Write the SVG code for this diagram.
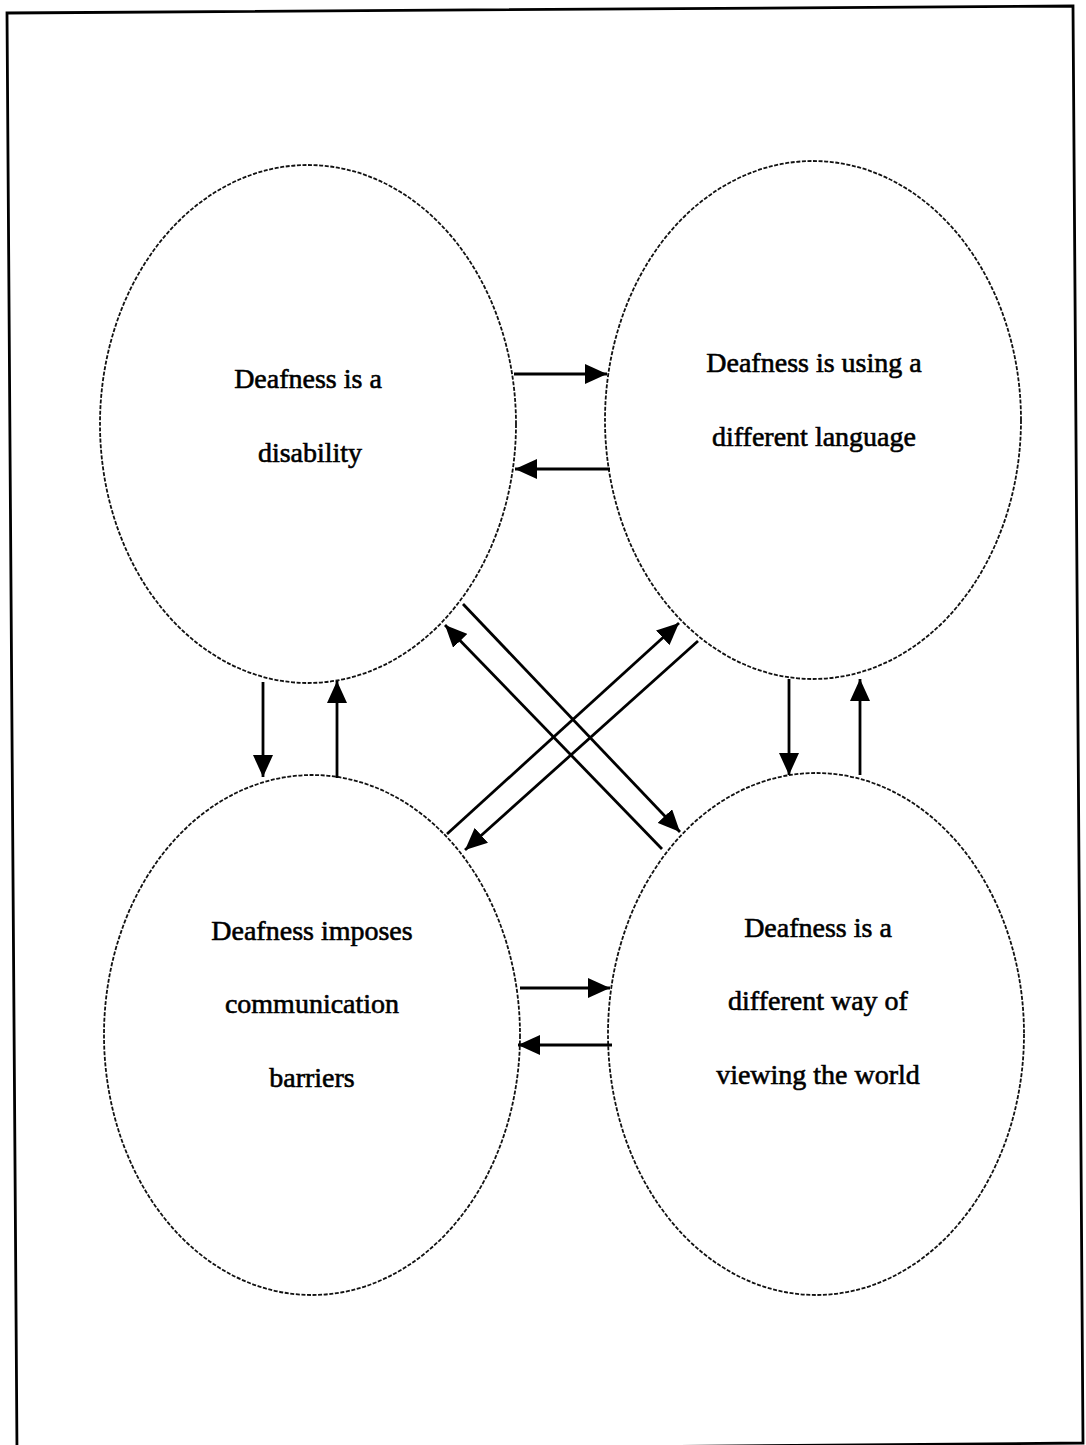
<svg xmlns="http://www.w3.org/2000/svg" width="1086" height="1445" viewBox="0 0 1086 1445">
  <style>
    .frame { fill: none; stroke: #000; stroke-width: 2.8; }
    .bubble { fill: none; stroke: #111; stroke-width: 1.8; stroke-dasharray: 4 1.6; }
    .label { font-family: "Liberation Serif", "Times New Roman", serif; font-size: 28px; fill: #000; stroke: #000; stroke-width: 0.6; text-anchor: middle; }
    .arrow { stroke: #000; stroke-width: 2.8; fill: none; marker-end: url(#head); }
  </style>
  <defs>
    <marker id="head" markerUnits="userSpaceOnUse" markerWidth="24" markerHeight="20" refX="22" refY="10" orient="auto">
      <path d="M0,0 L22,10 L0,20 Z" fill="#000"/>
    </marker>
  </defs>
  <rect width="1086" height="1445" fill="#fff"/>

  <!-- page frame -->
  <polygon class="frame" points="7,13 1073,6 1083,1443 17,1452"/>

  <!-- concept bubbles -->
  <g id="node-disability">
    <ellipse class="bubble" cx="308" cy="424" rx="208" ry="259"/>
    <text class="label" x="308" y="388">Deafness is a</text>
    <text class="label" x="310" y="462">disability</text>
  </g>
  <g id="node-language">
    <ellipse class="bubble" cx="813" cy="420" rx="208" ry="259"/>
    <text class="label" x="814" y="372">Deafness is using a</text>
    <text class="label" x="814" y="446">different language</text>
  </g>
  <g id="node-barriers">
    <ellipse class="bubble" cx="312" cy="1035" rx="208" ry="260"/>
    <text class="label" x="312" y="940">Deafness imposes</text>
    <text class="label" x="312" y="1013">communication</text>
    <text class="label" x="312" y="1087">barriers</text>
  </g>
  <g id="node-worldview">
    <ellipse class="bubble" cx="816" cy="1034" rx="208" ry="261"/>
    <text class="label" x="818" y="937">Deafness is a</text>
    <text class="label" x="818" y="1010">different way of</text>
    <text class="label" x="818" y="1084">viewing the world</text>
  </g>

  <!-- connectors -->
  <g id="connectors">
    <!-- top pair -->
    <line class="arrow" x1="514" y1="374" x2="607" y2="374"/>
    <line class="arrow" x1="610" y1="469" x2="515" y2="469"/>
    <!-- left pair -->
    <line class="arrow" x1="263" y1="682" x2="263" y2="777"/>
    <line class="arrow" x1="337" y1="778" x2="337" y2="681"/>
    <!-- right pair -->
    <line class="arrow" x1="789" y1="679" x2="789" y2="775"/>
    <line class="arrow" x1="860" y1="775" x2="860" y2="679"/>
    <!-- bottom pair -->
    <line class="arrow" x1="520" y1="988" x2="610" y2="988"/>
    <line class="arrow" x1="612" y1="1045" x2="518" y2="1045"/>
    <!-- diagonals -->
    <line class="arrow" x1="463" y1="604" x2="680" y2="832"/>
    <line class="arrow" x1="662" y1="849" x2="445" y2="625"/>
    <line class="arrow" x1="447" y1="834" x2="679" y2="623"/>
    <line class="arrow" x1="698" y1="641" x2="465" y2="850"/>
  </g>
</svg>
